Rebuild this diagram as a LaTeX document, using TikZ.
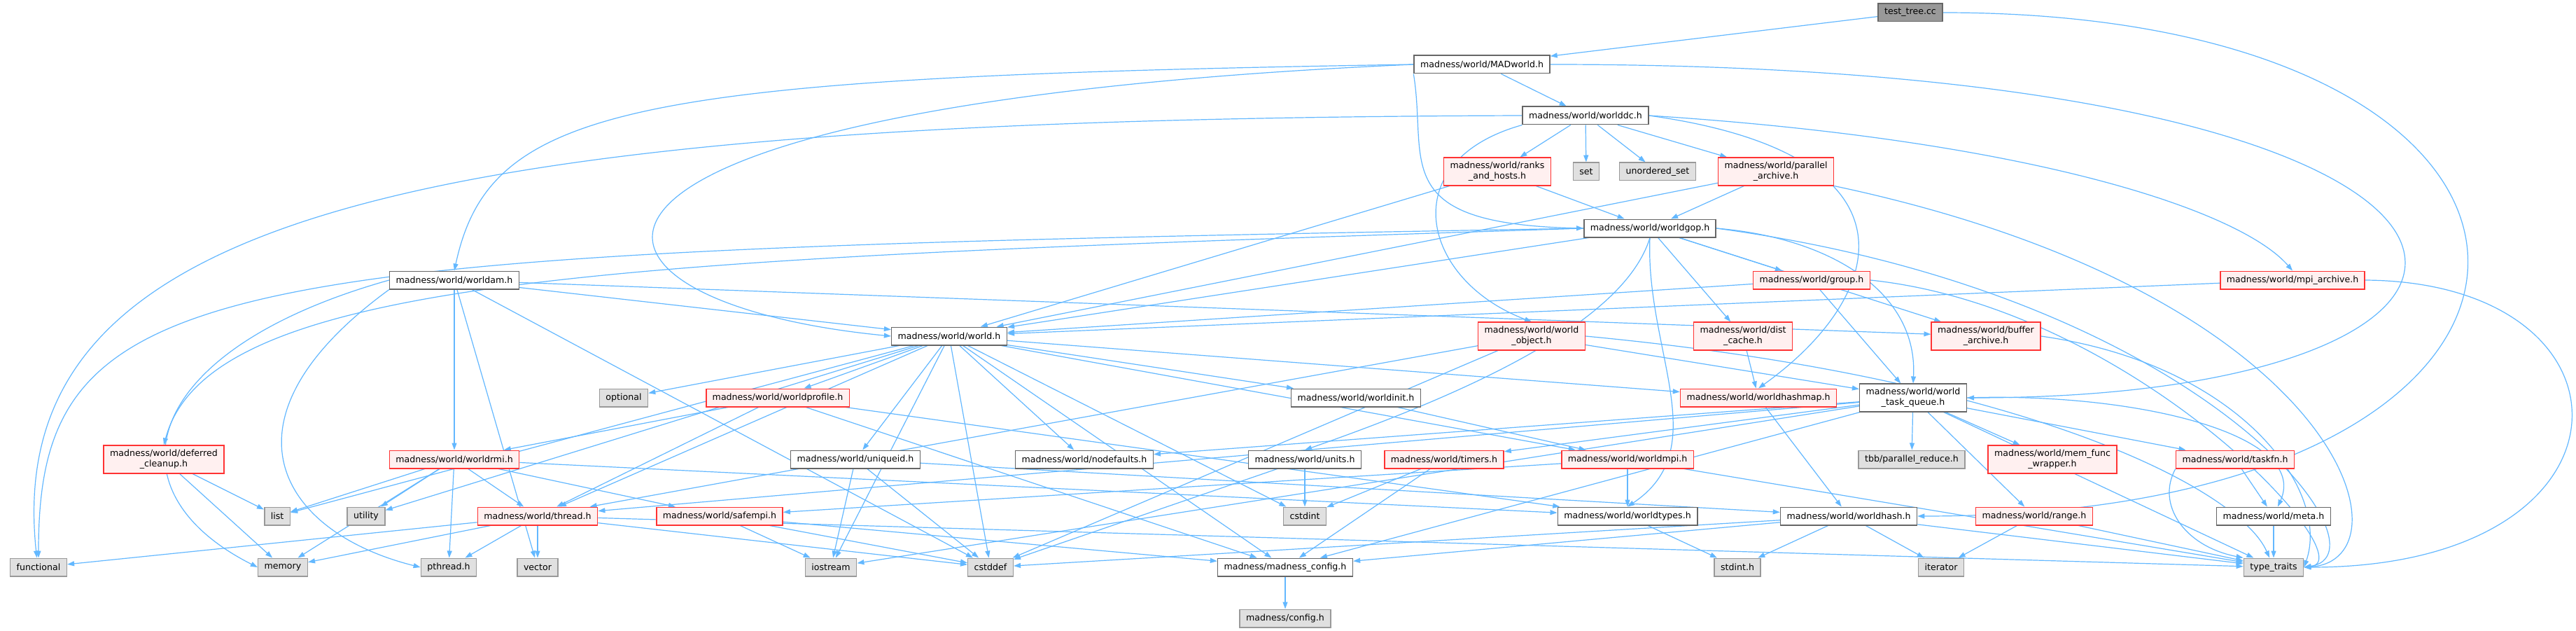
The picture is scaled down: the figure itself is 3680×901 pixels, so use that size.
\documentclass[tikz,border=0pt]{standalone}
\usepackage{fontspec}
\setmainfont{DejaVu Sans}
\usetikzlibrary{arrows.meta,backgrounds}
\definecolor{edgeblue}{HTML}{63B8FF}
\definecolor{boxgrey}{HTML}{666666}
\definecolor{extfill}{HTML}{E0E0E0}
\definecolor{extline}{HTML}{999999}
\definecolor{truncfill}{HTML}{FFF0F0}
\definecolor{truncline}{HTML}{FF3333}
\begin{document}
\begin{tikzpicture}[x=1pt,y=-1pt,font=\fontsize{12.6}{15}\selectfont,
  hdr/.style={draw=boxgrey,fill=white,line width=1.5pt,inner xsep=9pt,inner ysep=6pt,minimum height=25.5pt,align=center},
  trunc/.style={hdr,draw=truncline,fill=truncfill},
  sys/.style={hdr,draw=extline,fill=extfill},
  root/.style={hdr,draw=boxgrey,fill=extline},
  dep/.style={draw=edgeblue,line width=1.2pt,-{Triangle[length=10pt,width=7pt]}}]
\useasboundingbox (0,0) rectangle (3680,901);
\node[root] (tt) at (2729,18) {test\_tree.cc};
\node[hdr] (mad) at (2117,92) {madness/world/MADworld.h};
\node[hdr] (wdc) at (2265,165) {madness/world/worlddc.h};
\node[trunc] (rah) at (2139,245) {madness/world/ranks\\\_and\_hosts.h};
\node[sys] (set) at (2266,245) {set};
\node[sys] (uset) at (2368,245) {unordered\_set};
\node[trunc] (par) at (2537,245) {madness/world/parallel\\\_archive.h};
\node[hdr] (gop) at (2357,326) {madness/world/worldgop.h};
\node[trunc] (grp) at (2588,400) {madness/world/group.h};
\node[trunc] (mpia) at (3275,400) {madness/world/mpi\_archive.h};
\node[hdr] (wam) at (649,400) {madness/world/worldam.h};
\node[hdr] (wld) at (1356,480) {madness/world/world.h};
\node[trunc] (wobj) at (2188,480) {madness/world/world\\\_object.h};
\node[trunc] (dc) at (2490,480) {madness/world/dist\\\_cache.h};
\node[trunc] (buf) at (2837,480) {madness/world/buffer\\\_archive.h};
\node[sys] (opt) at (891,568) {optional};
\node[trunc] (wprof) at (1111,568) {madness/world/worldprofile.h};
\node[hdr] (winit) at (1937,568) {madness/world/worldinit.h};
\node[trunc] (whm) at (2512,568) {madness/world/worldhashmap.h};
\node[hdr] (wtq) at (2733,568) {madness/world/world\\\_task\_queue.h};
\node[trunc] (dcl) at (234,656) {madness/world/deferred\\\_cleanup.h};
\node[trunc] (wrmi) at (649,656) {madness/world/worldrmi.h};
\node[hdr] (uid) at (1222,656) {madness/world/uniqueid.h};
\node[hdr] (nodef) at (1549,656) {madness/world/nodefaults.h};
\node[hdr] (units) at (1864,656) {madness/world/units.h};
\node[trunc] (tim) at (2063,656) {madness/world/timers.h};
\node[trunc] (wmpi) at (2325,656) {madness/world/worldmpi.h};
\node[sys] (tbb) at (2731,656) {tbb/parallel\_reduce.h};
\node[trunc] (mfw) at (2932,656) {madness/world/mem\_func\\\_wrapper.h};
\node[trunc] (tfn) at (3193,656) {madness/world/taskfn.h};
\node[sys] (list) at (396,737) {list};
\node[sys] (util) at (523,737) {utility};
\node[trunc] (thr) at (768,737) {madness/world/thread.h};
\node[trunc] (smpi) at (1028,737) {madness/world/safempi.h};
\node[sys] (cint) at (1864,737) {cstdint};
\node[hdr] (wtyp) at (2325,737) {madness/world/worldtypes.h};
\node[hdr] (whash) at (2641,737) {madness/world/worldhash.h};
\node[trunc] (rng) at (2906,737) {madness/world/range.h};
\node[hdr] (meta) at (3248,737) {madness/world/meta.h};
\node[sys] (func) at (55,810) {functional};
\node[sys] (mem) at (404,810) {memory};
\node[sys] (pth) at (641,810) {pthread.h};
\node[sys] (vec) at (768,810) {vector};
\node[sys] (ios) at (1187,810) {iostream};
\node[sys] (cdef) at (1415,810) {cstddef};
\node[hdr] (mcfg) at (1836,810) {madness/madness\_config.h};
\node[sys] (sint) at (2482,810) {stdint.h};
\node[sys] (iter) at (2773,810) {iterator};
\node[sys] (ttr) at (3248,810) {type\_traits};
\node[sys] (cfg) at (1836,883) {madness/config.h};
\begin{pgfonlayer}{background}
\fill[white] (0,0) rectangle (3680,901);
\draw[dep] (tt) -- (mad);
\draw[dep] (tt.east) .. controls (3780,18) and (3780,737) .. (whash.east);
\draw[dep] (mad) -- (wdc);
\draw[dep] (mad.south west) .. controls (2040,230) and (1980,320) .. (gop.west);
\draw[dep] (mad.west) .. controls (900,110) and (700,150) .. (wam.north);
\draw[dep] (mad.west) .. controls (700,150) and (760,430) .. (wld.west);
\draw[dep] (mad.east) .. controls (3723,92) and (3723,568) .. (wtq.east);
\draw[dep] (wdc.west) .. controls (600,170) and (0,300) .. (func.100);
\draw[dep] (wdc) -- (rah);
\draw[dep] (wdc) -- (set);
\draw[dep] (wdc) -- (uset);
\draw[dep] (wdc) -- (par);
\draw[dep] (wdc.south west) .. controls (1990,230) and (2030,400) .. (wobj.north);
\draw[dep] (wdc.east) .. controls (2900,200) and (3200,300) .. (mpia.north);
\draw[dep] (wdc.east) .. controls (2750,220) and (2700,420) .. (whm.north);
\draw[dep] (rah) -- (wld);
\draw[dep] (rah) -- (gop);
\draw[dep] (par) -- (wld);
\draw[dep] (par) -- (gop);
\draw[dep] (par.south east) .. controls (3350,420) and (3450,800) .. (ttr.east);
\draw[dep] (gop.west) .. controls (300,360) and (55,380) .. (func.north);
\draw[dep] (gop.west) .. controls (900,370) and (300,390) .. (dcl.north);
\draw[dep] (gop) -- (wld);
\draw[dep] (gop.south) .. controls (2320,460) and (2100,560) .. (units.north);
\draw[dep] (gop.south) .. controls (2350,500) and (2450,640) .. (wtyp.north);
\draw[dep] (gop) -- (dc);
\draw[dep] (gop) -- (grp);
\draw[dep] (gop) -- (buf);
\draw[dep] (gop.east) .. controls (2620,340) and (2740,420) .. (wtq.north);
\draw[dep] (gop.east) .. controls (3150,420) and (3420,790) .. (ttr.east);
\draw[dep] (grp) -- (wld);
\draw[dep] (grp) -- (wtq);
\draw[dep] (grp.east) .. controls (3050,440) and (3380,800) .. (ttr.east);
\draw[dep] (mpia) -- (wld);
\draw[dep] (mpia.east) .. controls (3785,403) and (3785,810) .. (ttr.east);
\draw[dep] (wam) -- (wld);
\draw[dep] (wam) -- (buf);
\draw[dep] (wam) -- (wrmi);
\draw[dep] (wam.west) .. controls (200,500) and (150,700) .. (mem.west);
\draw[dep] (wam.south west) .. controls (300,600) and (400,760) .. (pth.west);
\draw[dep] (wam) -- (vec);
\draw[dep] (wam) -- (cdef);
\draw[dep] (wld) -- (opt);
\draw[dep] (wld) -- (list);
\draw[dep] (wld) -- (util);
\draw[dep] (wld) -- (thr);
\draw[dep] (wld) -- (ios);
\draw[dep] (wld) -- (cdef);
\draw[dep] (wld) -- (cint);
\draw[dep] (wld) -- (mcfg);
\draw[dep] (wld) -- (wprof);
\draw[dep] (wld) -- (uid);
\draw[dep] (wld) -- (nodef);
\draw[dep] (wld) -- (winit);
\draw[dep] (wld) -- (whm);
\draw[dep] (wld) -- (wmpi);
\draw[dep] (wobj) -- (thr);
\draw[dep] (wobj) -- (cdef);
\draw[dep] (wobj) -- (wtq);
\draw[dep] (wobj.east) .. controls (2900,540) and (3200,700) .. (ttr);
\draw[dep] (dc) -- (whm);
\draw[dep] (buf.east) .. controls (3200,520) and (3330,700) .. (ttr.east);
\draw[dep] (dcl) -- (list);
\draw[dep] (dcl) -- (mem);
\draw[dep] (wprof) -- (wrmi);
\draw[dep] (wprof) -- (thr);
\draw[dep] (wprof) -- (mcfg);
\draw[dep] (wprof) -- (wtyp);
\draw[dep] (winit) -- (wmpi);
\draw[dep] (whm) -- (whash);
\draw[dep] (wtq) -- (nodef);
\draw[dep] (wtq) -- (tim);
\draw[dep] (wtq) -- (mcfg);
\draw[dep] (wtq) -- (tbb);
\draw[dep] (wtq) -- (mfw);
\draw[dep] (wtq) -- (tfn);
\draw[dep] (wtq.east) .. controls (3050,560) and (3300,620) .. (meta);
\draw[dep] (wtq) -- (ttr);
\draw[dep] (wtq) -- (rng);
\draw[dep] (wtq) -- (thr);
\draw[dep] (wtq) -- (ios);
\draw[dep] (wrmi) -- (list);
\draw[dep] (wrmi) -- (util);
\draw[dep] (wrmi) -- (mem);
\draw[dep] (wrmi) -- (pth);
\draw[dep] (wrmi) -- (thr);
\draw[dep] (wrmi) -- (smpi);
\draw[dep] (wrmi) -- (wtyp);
\draw[dep] (uid) -- (ios);
\draw[dep] (uid) -- (cdef);
\draw[dep] (uid) -- (whash);
\draw[dep] (units) -- (cint);
\draw[dep] (units) -- (cdef);
\draw[dep] (tim) -- (cint);
\draw[dep] (tim) -- (mcfg);
\draw[dep] (wmpi) -- (smpi);
\draw[dep] (wmpi) -- (wtyp);
\draw[dep] (wmpi) -- (ttr);
\draw[dep] (tfn) -- (meta);
\draw[dep] (tfn.south west) .. controls (3080,720) and (3120,780) .. (ttr.north west);
\draw[dep] (thr) -- (func);
\draw[dep] (thr) -- (pth);
\draw[dep] (thr) -- (vec);
\draw[dep] (thr) -- (mem);
\draw[dep] (thr) -- (cdef);
\draw[dep] (thr) -- (ttr);
\draw[dep] (smpi) -- (ios);
\draw[dep] (smpi) -- (mcfg);
\draw[dep] (smpi) -- (cdef);
\draw[dep] (wtyp) -- (sint);
\draw[dep] (whash) -- (sint);
\draw[dep] (whash) -- (iter);
\draw[dep] (whash) -- (mcfg);
\draw[dep] (whash) -- (cdef);
\draw[dep] (whash) -- (ttr);
\draw[dep] (rng) -- (iter);
\draw[dep] (rng) -- (ttr);
\draw[dep] (meta) -- (ttr);
\draw[dep] (mcfg) -- (cfg);
\end{pgfonlayer}
\end{tikzpicture}
\end{document}
